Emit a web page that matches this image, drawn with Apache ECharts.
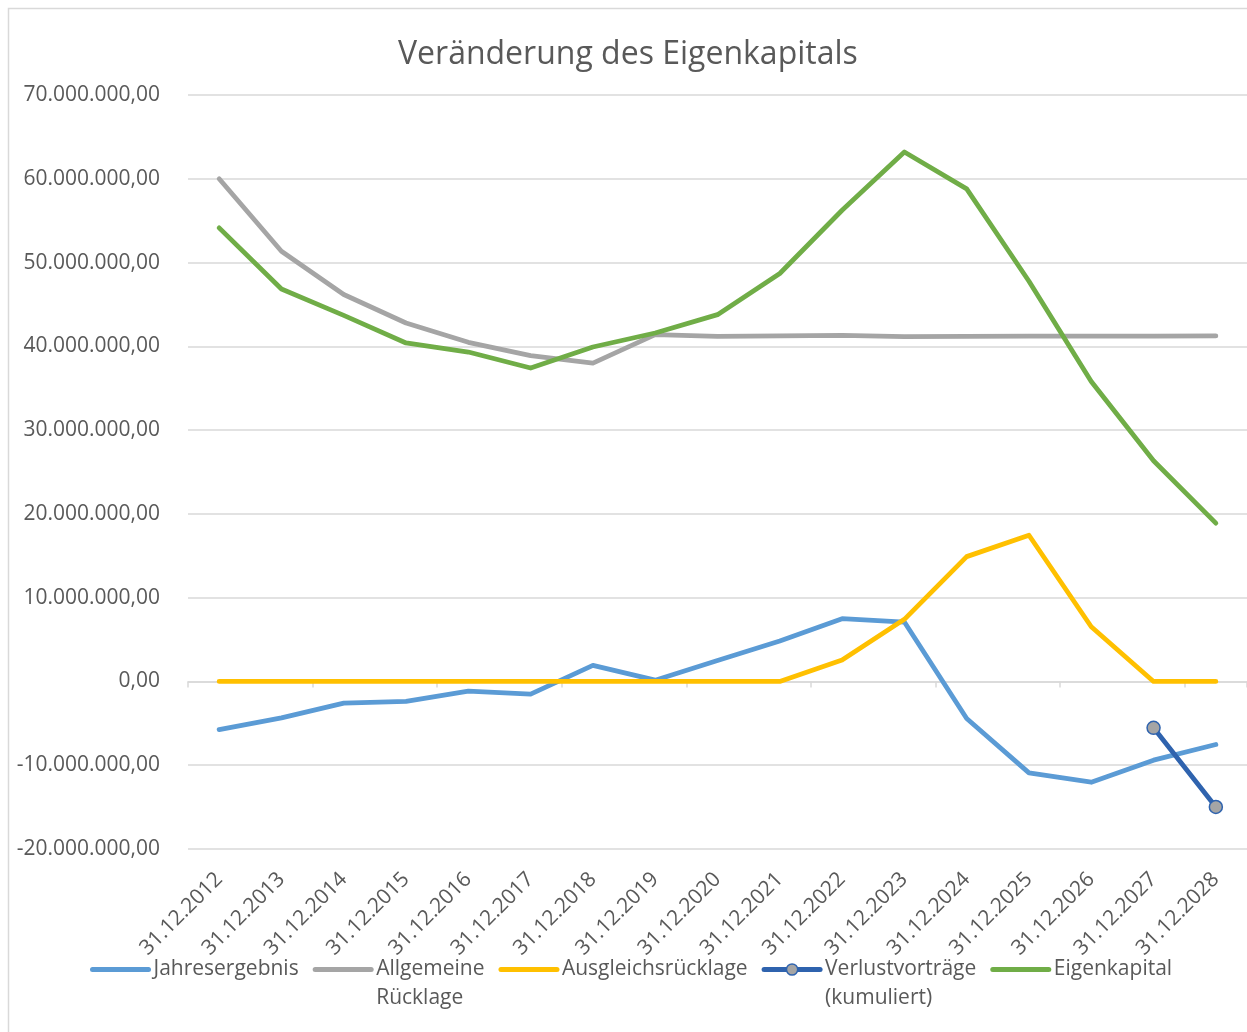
<!DOCTYPE html>
<html>
<head>
<meta charset="utf-8">
<script src="https://cdn.jsdelivr.net/npm/echarts@6/dist/echarts.min.js"></script>
<style>
  html, body { margin: 0; padding: 0; background: #fff; }
  #chart { width: 1247px; height: 1032px; }
</style>
</head>
<body>
<div id="chart"></div>
<script>
const categories = ['31.12.2012','31.12.2013','31.12.2014','31.12.2015','31.12.2016','31.12.2017','31.12.2018','31.12.2019','31.12.2020','31.12.2021','31.12.2022','31.12.2023','31.12.2024','31.12.2025','31.12.2026','31.12.2027','31.12.2028'];

const jahresergebnis = [-5740000,-4340000,-2590000,-2390000,-1160000,-1510000,1910000,150000,2510000,4820000,7490000,7090000,-4420000,-10920000,-12030000,-9400000,-7530000];
const allgemeineRuecklage = [60000000,51350000,46180000,42790000,40480000,38880000,38000000,41390000,41200000,41240000,41300000,41160000,41200000,41220000,41220000,41230000,41240000];
const ausgleichsruecklage = [0,0,0,0,0,0,0,0,0,0,2550000,7410000,14900000,17450000,6530000,0,0];
const verlustvortraege = [null,null,null,null,null,null,null,null,null,null,null,null,null,null,null,-5540000,-14980000];
const eigenkapital = [54140000,46850000,43700000,40400000,39320000,37410000,39920000,41590000,43780000,48690000,56250000,63190000,58800000,47770000,35800000,26350000,18900000];

const yMin = -20000000, yMax = 70000000, yStep = 10000000;

const names = ['Jahresergebnis','Allgemeine Rücklage','Ausgleichsrücklage','Verlustvorträge (kumuliert)','Eigenkapital'];
const legendLabels = {
  'Jahresergebnis': 'Jahresergebnis',
  'Allgemeine Rücklage': ' \nAllgemeine\nRücklage',
  'Ausgleichsrücklage': 'Ausgleichsrücklage',
  'Verlustvorträge (kumuliert)': ' \nVerlustvorträge\n(kumuliert)',
  'Eigenkapital': 'Eigenkapital'
};
const colors = ['#5B9BD5', '#A5A5A5', '#FFC000', '#2F63AE', '#70AD47'];

function fmtDE(v) {
  const neg = v < 0;
  let s = Math.abs(Math.round(v)).toString();
  s = s.replace(/\B(?=(\d{3})+(?!\d))/g, '.');
  return (neg ? '-' : '') + s + ',00';
}

const FONT = '"Open Sans", sans-serif';
const TXT = '#595959';
const GRID = '#d9d9d9';

const chart = echarts.init(document.getElementById('chart'), null, { renderer: 'canvas' });

function lineSeries(idx, data, extra) {
  return Object.assign({
    name: names[idx],
    type: 'line',
    data: data,
    xAxisIndex: 0,
    symbol: 'none',
    lineStyle: { color: colors[idx], width: 4.8, cap: 'round', join: 'round' },
    itemStyle: { color: colors[idx] },
    emphasis: { disabled: true },
    animation: false
  }, extra || {});
}

const option = {
  animation: false,
  backgroundColor: '#fff',
  title: {
    text: 'Veränderung des Eigenkapitals',
    left: 393,
    top: 34,
    textStyle: { fontFamily: FONT, fontSize: 32, fontWeight: 'normal', color: TXT }
  },
  graphic: [{
    type: 'rect',
    shape: { x: 8.5, y: 8.5, width: 1400, height: 1200 },
    style: { fill: 'none', stroke: GRID, lineWidth: 1.5 },
    silent: true
  }],
  grid: { left: 188, right: -2, top: 95, bottom: 183, containLabel: false },
  legend: {
    top: 921,
    left: 85,
    itemWidth: 56,
    itemHeight: 14,
    itemGap: 14,
    lineStyle: { width: 5, cap: 'round' },
    textStyle: { fontFamily: FONT, fontSize: 21, color: TXT, lineHeight: 29 },
    data: names.map((n, i) => i === 3
      ? { name: n, itemStyle: { color: '#A5A5A5', borderColor: colors[3], borderWidth: 1.5 } }
      : { name: n, itemStyle: { opacity: 0 } }),
    formatter: n => legendLabels[n]
  },
  xAxis: [{
    type: 'category',
    data: categories,
    position: 'bottom',
    boundaryGap: true,
    axisLine: { show: false, onZero: false },
    axisTick: { show: false },
    splitLine: { show: false },
    axisLabel: { rotate: 45, margin: 27, interval: 0, fontFamily: FONT, fontSize: 21, color: TXT }
  }, {
    type: 'category',
    data: categories,
    position: 'bottom',
    boundaryGap: true,
    axisLine: { show: true, onZero: true, lineStyle: { color: GRID, width: 1.5 } },
    axisTick: { show: true, length: 6, lineStyle: { color: GRID, width: 1.5 } },
    axisLabel: { show: false },
    splitLine: { show: false }
  }],
  yAxis: {
    type: 'value',
    min: yMin,
    max: yMax,
    interval: yStep,
    axisLine: { show: false },
    axisTick: { show: false },
    splitLine: { lineStyle: { color: GRID, width: 1.5 } },
    axisLabel: { margin: 28, fontFamily: FONT, fontSize: 21, color: TXT, formatter: fmtDE }
  },
  series: [
    lineSeries(0, jahresergebnis),
    lineSeries(1, allgemeineRuecklage),
    lineSeries(2, ausgleichsruecklage),
    lineSeries(3, verlustvortraege, {
      symbol: 'circle',
      symbolSize: 13,
      showSymbol: true,
      connectNulls: false,
      itemStyle: { color: '#A5A5A5', borderColor: colors[3], borderWidth: 1.5 }
    }),
    lineSeries(4, eigenkapital)
  ]
};

chart.setOption(option);
</script>
</body>
</html>
